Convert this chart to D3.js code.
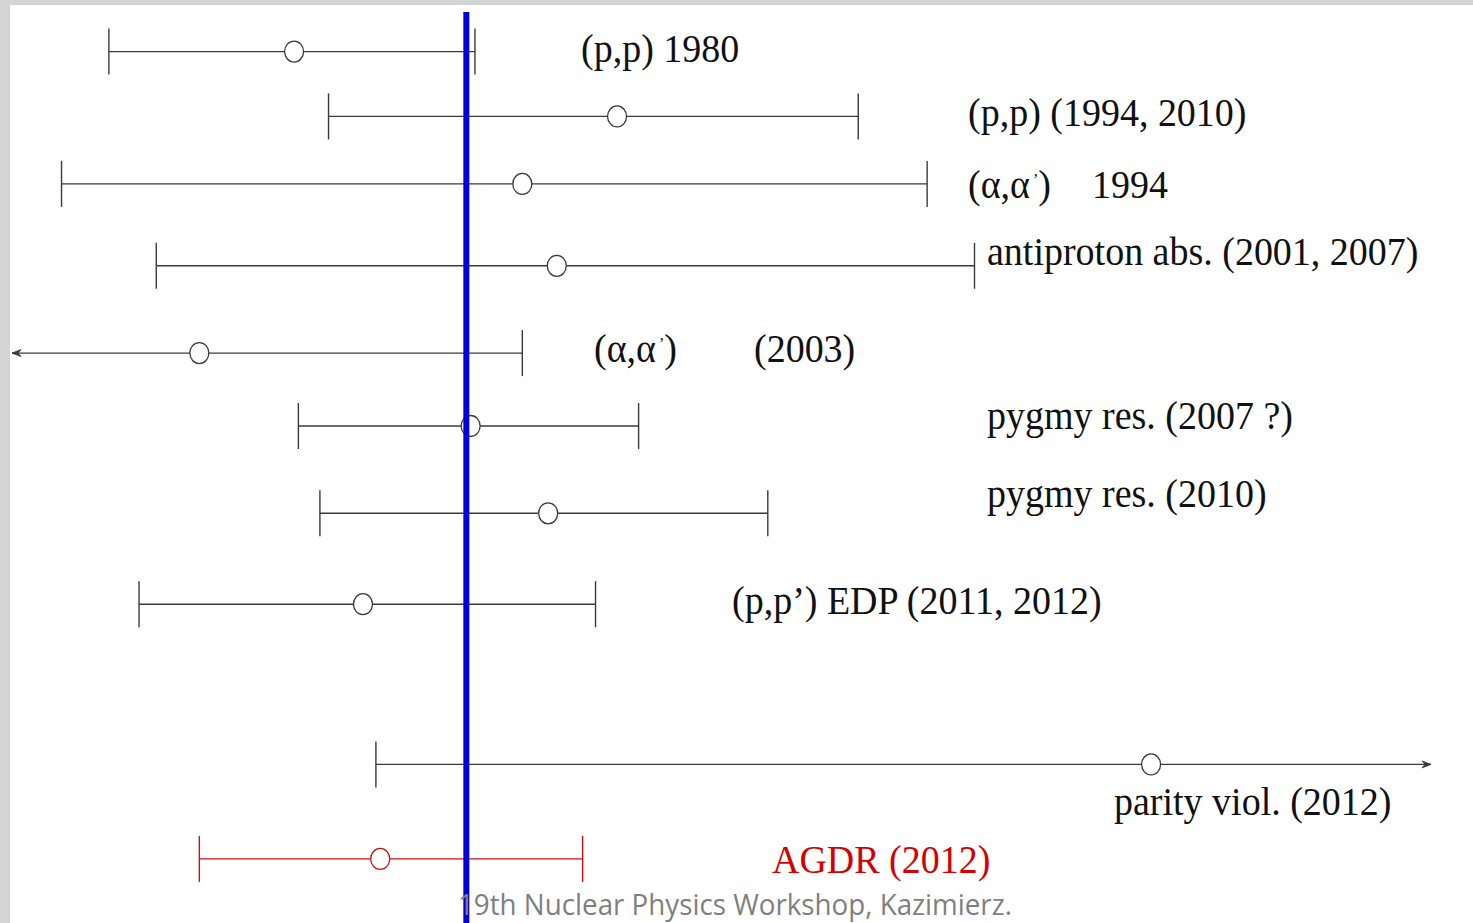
<!DOCTYPE html>
<html>
<head>
<meta charset="utf-8">
<script src="https://cdn.jsdelivr.net/npm/d3@7/dist/d3.min.js"></script>
<style>
  html, body { margin: 0; padding: 0; background: #fff; }
  svg { display: block; }
</style>
</head>
<body>
<svg id="chart" width="1473" height="923"></svg>
<script>
// Neutron-skin thickness determinations (fm), one row per method.
const methods = [
  ["(p,p) 1980"],
  ["(p,p) (1994, 2010)"],
  ["(α,α’)", "1994"],
  ["antiproton abs. (2001, 2007)"],
  ["(α,α’)", "(2003)"],
  ["pygmy res. (2007 ?)"],
  ["pygmy res. (2010)"],
  ["(p,p’) EDP (2011, 2012)"],
  ["parity viol. (2012)"],
  ["AGDR (2012)"]
];
// central value and error-bar ends; null = bar runs off the scale
const centerValues = [0.130, 0.205, 0.183, 0.191, 0.108, 0.171, 0.189, 0.146, 0.329, 0.150];
const lowerValues  = [0.087, 0.138, 0.076, 0.098, null,  0.131, 0.136, 0.094, 0.149, 0.108];
const upperValues  = [0.172, 0.261, 0.277, 0.288, 0.183, 0.210, 0.240, 0.200, null,  0.197];
// vertical slot of each row
const rowSlots     = [0.44, 1.16, 1.91, 2.82, 3.79, 4.60, 5.57, 6.58, 8.36, 9.41];
// highlighted result and reference value
const highlightIndex = 9;
const referenceValue = 0.170;
const footerText = "19th Nuclear Physics Workshop, Kazimierz.";

const svg = d3.select("#chart");
const W = 1473, H = 923;

// slide frame
svg.append("rect").attr("width", W).attr("height", H).attr("fill", "#d4d4d4");
svg.append("rect").attr("x", 10).attr("y", 5).attr("width", W - 10).attr("height", H - 5).attr("fill", "#ffffff");

const x = d3.scaleLinear().domain([0.0645, 0.394]).range([12, 1431]);
const y = d3.scaleLinear().domain([0, 10]).range([12, 912]);

const rows = methods.map((m, i) => ({
  parts: m, c: centerValues[i], lo: lowerValues[i], hi: upperValues[i], slot: rowSlots[i],
  hl: i === highlightIndex
}));

const ink = "#3a3a3a", red = "#cc1010";
const capHalf = 23;

const g = svg.append("g");

rows.forEach(r => {
  const col = r.hl ? red : ink;
  const yy = y(r.slot);
  const x0 = r.lo == null ? x.range()[0] : x(r.lo);
  const x1 = r.hi == null ? x.range()[1] : x(r.hi);
  g.append("line").attr("x1", x0).attr("x2", x1).attr("y1", yy).attr("y2", yy)
    .attr("stroke", col).attr("stroke-width", 1.4);
  // caps or arrowheads at each end
  [[r.lo, x0, -1], [r.hi, x1, 1]].forEach(([v, xe, dir]) => {
    if (v == null) {
      g.append("path")
        .attr("d", `M${xe},${yy} L${xe - dir * 9},${yy - 3.5} L${xe - dir * 6},${yy} L${xe - dir * 9},${yy + 3.5} Z`)
        .attr("fill", col).attr("stroke", col).attr("stroke-width", 0.8);
    } else {
      g.append("line").attr("x1", xe).attr("x2", xe).attr("y1", yy - capHalf).attr("y2", yy + capHalf)
        .attr("stroke", col).attr("stroke-width", 1.4);
    }
  });
  g.append("ellipse").attr("cx", x(r.c)).attr("cy", yy).attr("rx", 9.5).attr("ry", 10.5)
    .attr("fill", "#fff").attr("stroke", col).attr("stroke-width", 1.3);
});

// reference value
svg.append("line").attr("x1", x(referenceValue)).attr("x2", x(referenceValue))
  .attr("y1", 12).attr("y2", H).attr("stroke", "#0000d8").attr("stroke-width", 6);

// row labels: [x of each part, baseline]
const labelLayout = [
  [[581], 62], [[968], 126], [[968, 1092], 198], [[987], 265], [[594, 754], 362],
  [[987], 429], [[987], 507], [[732], 614], [[1114], 815], [[772], 873]
];
const lab = svg.append("g").attr("font-family", "'Liberation Serif', 'Times New Roman', serif")
  .attr("font-size", 38);
rows.forEach((r, i) => {
  const [xs, base] = labelLayout[i];
  r.parts.forEach((p, k) => {
    const t = lab.append("text")
      .attr("transform", `translate(${xs[k]},${base}) scale(1,1.08)`)
      .attr("fill", r.hl ? "#d40000" : "#111");
    if (p.startsWith("(α,α")) {
      // small raised prime after the second alpha
      t.append("tspan").text("(α,α");
      t.append("tspan").attr("font-size", 16).attr("dx", 3).attr("dy", -12).text("’");
      t.append("tspan").attr("dy", 12).text(")");
    } else {
      t.text(p);
    }
  });
});

// footer
svg.append("text").attr("x", 458).attr("y", 915)
  .attr("font-family", "'Open Sans', 'Liberation Sans', sans-serif").attr("font-size", 29)
  .attr("fill", "#7f7f7f").attr("textLength", 554).attr("lengthAdjust", "spacingAndGlyphs")
  .text(footerText);
</script>
</body>
</html>
